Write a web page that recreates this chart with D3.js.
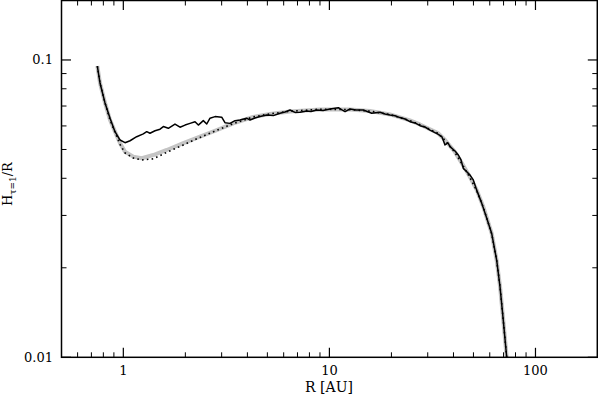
<!DOCTYPE html>
<html>
<head>
<meta charset="utf-8">
<script src="https://cdn.jsdelivr.net/npm/d3@7"></script>
<style>
  body { margin: 0; background: #fff; }
  svg { display: block; }
  text { font-family: "DejaVu Serif", serif; fill: #000; }
</style>
</head>
<body>
<div id="chart"></div>
<script>
// radius [AU] and scale height H_{tau=1}/R
const rModel = [0.748, 0.771, 0.815, 0.862, 0.911, 0.964, 1.019, 1.118, 1.228, 1.398, 1.624, 1.955, 2.356, 2.840, 3.419,
  4.259, 5.150, 6.44, 9.00, 12.59, 15.74, 19.68, 24.6, 27.5, 33.6, 36.4, 40.7, 44.5, 48.1, 51.9, 55.8, 61.3, 64.8,
  67.3, 69.8, 72.5];
const hModel = [0.0954, 0.0835, 0.0717, 0.0628, 0.0574, 0.0525, 0.0491, 0.0473, 0.0467, 0.0479, 0.0498, 0.0525, 0.0552,
  0.0581, 0.0612, 0.0643, 0.0658, 0.0671, 0.0682, 0.0682, 0.0674, 0.0656, 0.0626, 0.0607, 0.0568, 0.0538, 0.0490,
  0.0443, 0.0404, 0.0365, 0.0321, 0.0261, 0.0212, 0.0173, 0.0133, 0.0100];

const hDotted = [0.0954, 0.0835, 0.0717, 0.0628, 0.0572, 0.0520, 0.0487, 0.0468, 0.0461, 0.0465, 0.0489, 0.0518, 0.0549,
  0.0580, 0.0611, 0.0643, 0.0659, 0.0672, 0.0683, 0.0681, 0.0673, 0.0655, 0.0625, 0.0606, 0.0567, 0.0537, 0.0488,
  0.0441, 0.0402, 0.0363, 0.0320, 0.0260, 0.0212, 0.0173, 0.0133, 0.0100];

const rSolid = [0.748, 0.771, 0.815, 0.862, 0.911, 0.964, 1.019, 1.078, 1.161, 1.250, 1.299, 1.347, 1.425, 1.507, 1.564,
  1.653, 1.781, 1.884, 1.993, 2.107, 2.228, 2.312, 2.444, 2.540, 2.634, 2.786, 3.002, 3.114, 3.294, 3.483, 3.684,
  3.969, 4.120, 4.355, 4.606, 4.963, 5.343, 5.759, 6.089, 6.439, 6.809, 7.201, 7.762, 8.142, 8.678, 9.311, 10.07,
  11.05, 11.51, 11.91, 12.59, 13.46, 14.61, 16.04, 17.60, 18.61, 19.68, 20.82, 22.01, 23.27, 24.61, 26.03, 27.52,
  29.10, 30.77, 33.77, 35.19, 36.39, 37.63, 38.48, 40.69, 42.22, 43.52, 44.65, 46.03, 48.12, 49.92, 51.85, 54.83,
  57.98, 61.31, 64.83, 67.26, 69.80, 72.50];
const hSolid = [0.0954, 0.0835, 0.0717, 0.0637, 0.0574, 0.0538, 0.0527, 0.0535, 0.0552, 0.0564, 0.0574, 0.0567, 0.0578,
  0.0585, 0.0597, 0.0589, 0.0609, 0.0594, 0.0604, 0.0612, 0.0620, 0.0604, 0.0625, 0.0609, 0.0637, 0.0645, 0.0642,
  0.0615, 0.0612, 0.0625, 0.0628, 0.0637, 0.0628, 0.0638, 0.0645, 0.0653, 0.0650, 0.0662, 0.0668, 0.0679, 0.0666,
  0.0667, 0.0674, 0.0671, 0.0679, 0.0676, 0.0684, 0.0691, 0.0679, 0.0670, 0.0684, 0.0679, 0.0679, 0.0662, 0.0667,
  0.0658, 0.0653, 0.0649, 0.0640, 0.0633, 0.0620, 0.0614, 0.0601, 0.0595, 0.0581, 0.0562, 0.0551, 0.0518, 0.0526,
  0.0511, 0.0494, 0.0479, 0.0461, 0.0432, 0.0423, 0.0410, 0.0395, 0.0365, 0.0330, 0.0294, 0.0261, 0.0212, 0.0173,
  0.0133, 0.0100];

const xMajor = [1, 10, 100];
const xMinor = [0.6, 0.7, 0.8, 0.9, 2, 3, 4, 5, 6, 7, 8, 9, 20, 30, 40, 50, 60, 70, 80, 90];
const yMajor = [0.01, 0.1];
const yMinor = [0.02, 0.03, 0.04, 0.05, 0.06, 0.07, 0.08, 0.09];

const width = 598, height = 397;
const padL = 61.5, padR = 597.3, padT = 0.5, padB = 357.3;

const svg = d3.select('#chart').append('svg')
  .attr('width', width)
  .attr('height', height);

const x = d3.scaleLog().domain([Math.pow(10, -0.3), Math.pow(10, 2.3)]).range([padL, padR]);
const y = d3.scaleLog().domain([0.01, Math.pow(10, -0.8)]).range([padB, padT]);

const line = d3.line()
  .x(d => x(d[0]))
  .y(d => y(d[1]));

// curves
svg.append('path')
  .datum(d3.zip(rModel, hModel))
  .attr('d', line)
  .attr('fill', 'none')
  .attr('stroke', '#c4c4c4')
  .attr('stroke-width', 4)
  .attr('stroke-linejoin', 'round');

svg.append('path')
  .datum(d3.zip(rModel, hDotted))
  .attr('d', line)
  .attr('fill', 'none')
  .attr('stroke', '#000')
  .attr('stroke-width', 1.6)
  .attr('stroke-dasharray', '1.6,3.2');

svg.append('path')
  .datum(d3.zip(rSolid, hSolid))
  .attr('d', line)
  .attr('fill', 'none')
  .attr('stroke', '#000')
  .attr('stroke-width', 1.5)
  .attr('stroke-linejoin', 'round');

// ticks, drawn inward on all four sides
const ticks = svg.append('g').attr('stroke', '#000');

function xTicks(vals, len, w) {
  vals.forEach(v => {
    ticks.append('line').attr('x1', x(v)).attr('x2', x(v))
      .attr('y1', padB).attr('y2', padB - len).attr('stroke-width', w);
    ticks.append('line').attr('x1', x(v)).attr('x2', x(v))
      .attr('y1', padT).attr('y2', padT + len).attr('stroke-width', w);
  });
}
function yTicks(vals, len, w) {
  vals.forEach(v => {
    ticks.append('line').attr('y1', y(v)).attr('y2', y(v))
      .attr('x1', padL).attr('x2', padL + len).attr('stroke-width', w);
    ticks.append('line').attr('y1', y(v)).attr('y2', y(v))
      .attr('x1', padR).attr('x2', padR - len).attr('stroke-width', w);
  });
}
xTicks(xMajor, 9.5, 1.2);
xTicks(xMinor, 5, 1);
yTicks(yMajor, 9.5, 1.2);
yTicks(yMinor, 5, 1);

svg.append('rect')
  .attr('x', padL).attr('y', padT)
  .attr('width', padR - padL).attr('height', padB - padT)
  .attr('fill', 'none')
  .attr('stroke', '#000')
  .attr('stroke-width', 1.5);

// tick labels
svg.selectAll('.xlab')
  .data(xMajor)
  .enter().append('text')
  .attr('class', 'xlab')
  .attr('x', d => x(d))
  .attr('y', 375)
  .attr('text-anchor', 'middle')
  .attr('font-size', 13)
  .text(d => d);

svg.selectAll('.ylab')
  .data(yMajor)
  .enter().append('text')
  .attr('class', 'ylab')
  .attr('x', 53)
  .attr('y', d => y(d) + 4.5)
  .attr('text-anchor', 'end')
  .attr('font-size', 13)
  .text(d => d);

// axis titles
svg.append('text')
  .attr('x', 329)
  .attr('y', 392)
  .attr('text-anchor', 'middle')
  .attr('font-size', 14)
  .text('R [AU]');

const yt = svg.append('text')
  .attr('transform', 'translate(12,184) rotate(-90)')
  .attr('text-anchor', 'middle')
  .attr('font-size', 13);
yt.append('tspan').text('H');
yt.append('tspan').attr('dy', 3.5).attr('font-size', 9).text('τ=1');
yt.append('tspan').attr('dy', -3.5).text('/R');
</script>
</body>
</html>
